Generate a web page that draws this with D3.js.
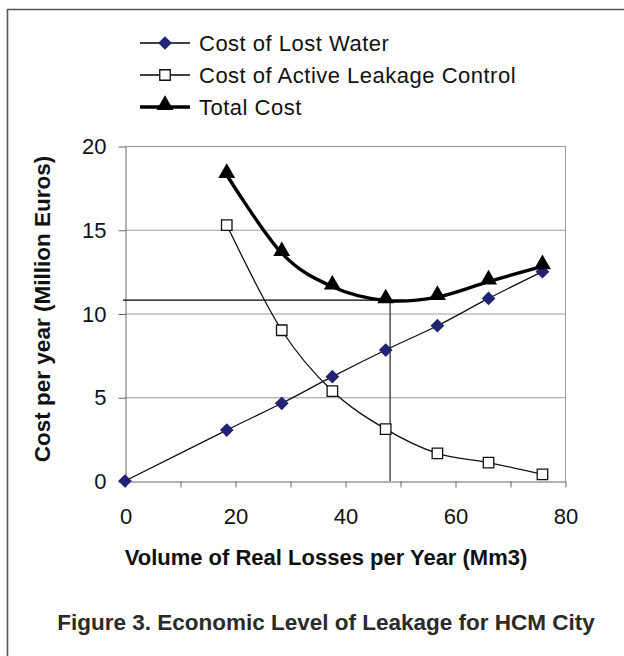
<!DOCTYPE html>
<head>
<style>
	body{
		margin: 0;
		background: white;
	}
	svg{
		display: block;
	}
</style>
</head>
<body>
<script src="https://cdn.jsdelivr.net/npm/d3@7/dist/d3.min.js" charset="utf-8"></script>
<svg width="624" height="656"></svg>
<script>
	// values
	var volume = [18.5, 28.5, 37.7, 47.4, 56.8, 66.1, 75.9];
	var lostWater = [0, 3.04, 4.64, 6.23, 7.82, 9.27, 10.9, 12.5];
	var lostWaterX = [0, 18.5, 28.5, 37.7, 47.4, 56.8, 66.1, 75.9];
	var alc = [15.28, 9.0, 5.37, 3.1, 1.65, 1.1, 0.4];
	var total = [18.27, 13.6, 11.6, 10.78, 10.98, 11.9, 12.82];
	var xTicks = [0, 10, 20, 30, 40, 50, 60, 70, 80];
	var xLabels = [0, 20, 40, 60, 80];
	var yTicks = [0, 5, 10, 15, 20];
	var ellX = 48.2, ellY = 10.8;
	var legendNames = ["Cost of Lost Water", "Cost of Active Leakage Control", "Total Cost"];

	var svg = d3.select("svg");
	var font = "Liberation Sans, Arial, sans-serif";

	var x = d3.scaleLinear().domain([0, 80]).range([125, 565]);
	var y = d3.scaleLinear().domain([0, 20]).range([481, 146]);

	// outer frame (top and left edges only)
	svg.append("path")
		.attr("d", "M7.5,656V9.5H624")
		.attr("fill", "none")
		.attr("stroke", "#555")
		.attr("stroke-width", 1.6);

	// gridlines
	svg.append("g").selectAll("line")
		.data(yTicks.slice(1))
		.join("line")
		.attr("x1", x(0)).attr("x2", x(80))
		.attr("y1", d => y(d) + 0.5).attr("y2", d => y(d) + 0.5)
		.attr("stroke", "#999").attr("stroke-width", 1);

	// right border of plot
	svg.append("line")
		.attr("x1", x(80) + 0.5).attr("x2", x(80) + 0.5)
		.attr("y1", y(20)).attr("y2", y(0))
		.attr("stroke", "#999");

	// axes
	var yAxis = svg.append("g")
		.attr("transform", "translate(" + (x(0) + 0.5) + ",0.5)")
		.call(d3.axisLeft(y).tickValues(yTicks).tickSize(7).tickSizeOuter(0).tickPadding(12));
	var xAxis = svg.append("g")
		.attr("transform", "translate(0.5," + (y(0) + 0.5) + ")")
		.call(d3.axisBottom(x).tickValues(xTicks).tickSize(6).tickSizeOuter(0).tickPadding(21)
			.tickFormat(d => xLabels.indexOf(d) >= 0 ? d : ""));
	[yAxis, xAxis].forEach(function(a){
		a.select(".domain").attr("stroke", "#666");
		a.selectAll(".tick line").attr("stroke", "#666");
		a.selectAll("text")
			.attr("fill", "#111")
			.style("font-family", font)
			.style("font-size", "22px");
	});

	// economic level of leakage guide lines
	svg.append("line")
		.attr("x1", x(0) - 2).attr("x2", x(ellX))
		.attr("y1", y(ellY)).attr("y2", y(ellY))
		.attr("stroke", "#000").attr("stroke-width", 1.3);
	svg.append("line")
		.attr("x1", x(ellX)).attr("x2", x(ellX))
		.attr("y1", y(ellY)).attr("y2", y(0))
		.attr("stroke", "#333").attr("stroke-width", 1.3);

	var smooth = d3.line().curve(d3.curveCatmullRom.alpha(0));

	// series lines
	svg.append("path")
		.attr("d", smooth(lostWaterX.map((v, i) => [x(v), y(lostWater[i])])))
		.attr("fill", "none").attr("stroke", "#111").attr("stroke-width", 1.3);
	svg.append("path")
		.attr("d", smooth(volume.map((v, i) => [x(v), y(alc[i])])))
		.attr("fill", "none").attr("stroke", "#111").attr("stroke-width", 1.3);
	svg.append("path")
		.attr("d", smooth(volume.map((v, i) => [x(v), y(total[i])])))
		.attr("fill", "none").attr("stroke", "#000").attr("stroke-width", 3.4);

	var diamond = d3.symbol().type(d3.symbolDiamond2).size(120);
	var square = d3.symbol().type(d3.symbolSquare).size(110);
	var triangle = d3.symbol().type(d3.symbolTriangle).size(125);

	svg.append("g").selectAll("path")
		.data(lostWaterX)
		.join("path")
		.attr("transform", (d, i) => "translate(" + x(d) + "," + y(lostWater[i]) + ")")
		.attr("d", diamond)
		.attr("fill", "#232375");
	svg.append("g").selectAll("path")
		.data(volume)
		.join("path")
		.attr("transform", (d, i) => "translate(" + x(d) + "," + y(alc[i]) + ")")
		.attr("d", square)
		.attr("fill", "white").attr("stroke", "#111").attr("stroke-width", 1.3);
	svg.append("g").selectAll("path")
		.data(volume)
		.join("path")
		.attr("transform", (d, i) => "translate(" + x(d) + "," + (y(total[i]) - 2) + ")")
		.attr("d", triangle)
		.attr("fill", "#000");

	// legend
	var legend = svg.append("g").selectAll("g")
		.data(legendNames)
		.join("g")
		.attr("transform", (d, i) => "translate(140," + (43 + i * 32) + ")");
	legend.append("line")
		.attr("x1", 0).attr("x2", 50)
		.attr("stroke", "#000")
		.attr("stroke-width", (d, i) => i === 2 ? 3.4 : 1.3);
	legend.append("path")
		.attr("transform", (d, i) => "translate(25," + (i === 2 ? -2 : 0) + ")")
		.attr("d", (d, i) => [diamond, square, triangle][i]())
		.attr("fill", (d, i) => ["#232375", "white", "#000"][i])
		.attr("stroke", (d, i) => i === 1 ? "#111" : "none")
		.attr("stroke-width", 1.3);
	legend.append("text")
		.attr("x", 59)
		.attr("dy", "0.35em")
		.style("font-family", font)
		.style("font-size", "22px")
		.style("letter-spacing", "0.5px")
		.attr("fill", "#111")
		.text(d => d);

	// axis titles
	svg.append("text")
		.attr("transform", "translate(42,309) rotate(-90)")
		.attr("text-anchor", "middle")
		.attr("dy", "0.35em")
		.style("font-family", font)
		.style("font-size", "22.5px")
		.style("font-weight", "bold")
		.attr("fill", "#111")
		.text("Cost per year (Million Euros)");
	svg.append("text")
		.attr("x", 326)
		.attr("y", 557)
		.attr("text-anchor", "middle")
		.attr("dy", "0.35em")
		.style("font-family", font)
		.style("font-size", "22px")
		.style("font-weight", "bold")
		.attr("fill", "#111")
		.text("Volume of Real Losses per Year (Mm3)");

	// caption
	svg.append("text")
		.attr("x", 326)
		.attr("y", 622)
		.attr("text-anchor", "middle")
		.attr("dy", "0.35em")
		.style("font-family", font)
		.style("font-size", "22.5px")
		.style("font-weight", "bold")
		.attr("fill", "#2a2a2a")
		.text("Figure 3. Economic Level of Leakage for HCM City");
</script>
</body>
</html>
